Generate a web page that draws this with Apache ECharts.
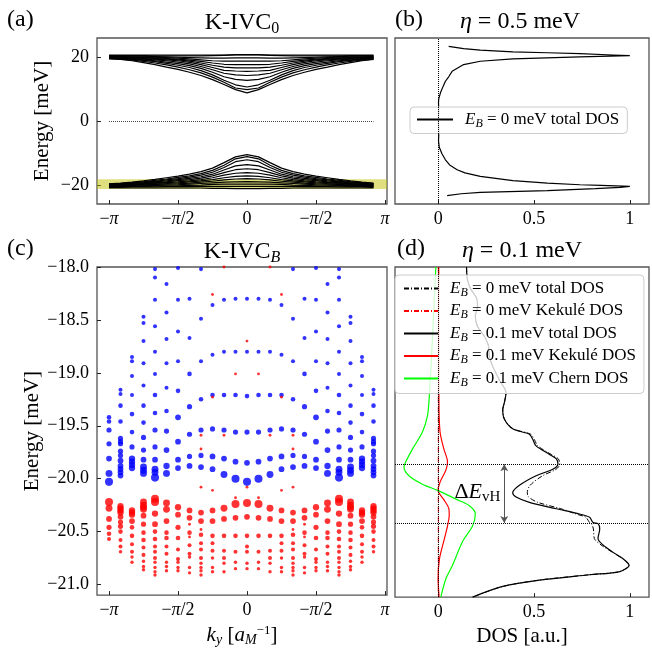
<!DOCTYPE html>
<html><head><meta charset="utf-8">
<script src="https://cdn.jsdelivr.net/npm/echarts@6/dist/echarts.min.js"></script>
<style>html,body{margin:0;padding:0;background:#fff}#c{width:652px;height:652px}</style>
</head><body><div id="c"></div>
<script>
const PI = Math.PI;
const FONT = 'Liberation Serif';

// ---- k grid (in units of pi), 24 points ----
const kyPi = [-1,-11/12,-10/12,-9/12,-8/12,-7/12,-6/12,-5/12,-4/12,-3/12,-2/12,-1/12,0,1/12,2/12,3/12,4/12,5/12,6/12,7/12,8/12,9/12,10/12,11/12];

// ---- panel (a): K-IVC_0 bands [meV] ----
const U0=[19.6,19.4,19.0,18.4,17.8,17.0,16.3,15.4,14.4,13.1,11.6,10.0,9.0,10.0,11.6,13.1,14.4,15.4,16.3,17.0,17.8,18.4,19.0,19.4];
const U1=[19.7,19.5,19.2,18.8,18.3,17.7,17.0,16.2,15.2,13.9,12.3,10.5,10.0,10.5,12.3,13.9,15.2,16.2,17.0,17.7,18.3,18.8,19.2,19.5];
const U2=[19.8,19.6,19.4,19.1,18.7,18.2,17.6,16.9,15.9,14.6,12.9,11.5,10.8,11.5,12.9,14.6,15.9,16.9,17.6,18.2,18.7,19.1,19.4,19.6];
const U3=[19.9,19.8,19.6,19.3,19.0,18.6,18.1,17.5,16.6,15.4,14.0,13.2,12.9,13.2,14.0,15.4,16.6,17.5,18.1,18.6,19.0,19.3,19.6,19.8];
const U4=[20.0,19.9,19.7,19.5,19.3,19.0,18.6,18.0,17.2,16.2,15.1,14.6,14.4,14.6,15.1,16.2,17.2,18.0,18.6,19.0,19.3,19.5,19.7,19.9];
const U5=[20.1,20.0,19.9,19.7,19.5,19.3,19.0,18.5,17.8,16.9,16.0,15.8,15.7,15.8,16.0,16.9,17.8,18.5,19.0,19.3,19.5,19.7,19.9,20.0];
const U6=[20.2,20.1,20.0,19.9,19.7,19.5,19.3,18.9,18.3,17.6,17.0,16.8,16.8,16.8,17.0,17.6,18.3,18.9,19.3,19.5,19.7,19.9,20.0,20.1];
const U7=[20.3,20.2,20.1,20.0,19.9,19.7,19.5,19.2,18.8,18.3,17.9,17.8,17.8,17.8,17.9,18.3,18.8,19.2,19.5,19.7,19.9,20.0,20.1,20.2];
const U8=[20.4,20.3,20.2,20.2,20.1,20.0,19.8,19.6,19.3,19.0,18.9,18.9,18.9,18.9,18.9,19.0,19.3,19.6,19.8,20.0,20.1,20.2,20.2,20.3];
const U9=[20.5,20.5,20.4,20.4,20.3,20.2,20.1,20.0,19.9,19.8,19.8,19.9,19.9,19.9,19.8,19.8,19.9,20.0,20.1,20.2,20.3,20.4,20.4,20.5];
const U10=[20.6,20.6,20.6,20.6,20.5,20.5,20.5,20.5,20.5,20.6,20.7,20.8,20.9,20.8,20.7,20.6,20.5,20.5,20.5,20.5,20.5,20.6,20.6,20.6];
const U11=[20.8,20.8,20.8,20.8,20.8,20.8,20.8,20.8,20.8,20.8,20.8,20.9,20.9,20.9,20.8,20.8,20.8,20.8,20.8,20.8,20.8,20.8,20.8,20.8];
const L0=[-19.4,-19.15,-18.85,-18.45,-18.0,-17.5,-17.0,-16.4,-15.6,-14.5,-12.8,-11.0,-10.3,-11.0,-12.8,-14.5,-15.6,-16.4,-17.0,-17.5,-18.0,-18.45,-18.85,-19.15];
const L1=[-19.5,-19.3,-19.05,-18.7,-18.3,-17.9,-17.4,-16.9,-16.2,-15.2,-13.6,-11.6,-10.9,-11.6,-13.6,-15.2,-16.2,-16.9,-17.4,-17.9,-18.3,-18.7,-19.05,-19.3];
const L2=[-19.6,-19.4,-19.2,-18.9,-18.6,-18.2,-17.8,-17.3,-16.7,-15.8,-14.3,-12.5,-11.9,-12.5,-14.3,-15.8,-16.7,-17.3,-17.8,-18.2,-18.6,-18.9,-19.2,-19.4];
const L3=[-19.7,-19.5,-19.3,-19.1,-18.8,-18.5,-18.1,-17.7,-17.2,-16.4,-15.1,-13.8,-13.4,-13.8,-15.1,-16.4,-17.2,-17.7,-18.1,-18.5,-18.8,-19.1,-19.3,-19.5];
const L4=[-19.8,-19.6,-19.5,-19.3,-19.0,-18.8,-18.4,-18.1,-17.6,-16.9,-15.9,-15.0,-14.7,-15.0,-15.9,-16.9,-17.6,-18.1,-18.4,-18.8,-19.0,-19.3,-19.5,-19.6];
const L5=[-19.9,-19.8,-19.6,-19.4,-19.2,-19.0,-18.8,-18.5,-18.1,-17.5,-16.7,-16.1,-15.9,-16.1,-16.7,-17.5,-18.1,-18.5,-18.8,-19.0,-19.2,-19.4,-19.6,-19.8];
const L6=[-20.0,-19.9,-19.8,-19.6,-19.4,-19.3,-19.1,-18.8,-18.5,-18.1,-17.5,-17.1,-16.9,-17.1,-17.5,-18.1,-18.5,-18.8,-19.1,-19.3,-19.4,-19.6,-19.8,-19.9];
const L7=[-20.1,-20.0,-19.9,-19.8,-19.6,-19.5,-19.4,-19.2,-18.9,-18.6,-18.2,-17.9,-17.8,-17.9,-18.2,-18.6,-18.9,-19.2,-19.4,-19.5,-19.6,-19.8,-19.9,-20.0];
const L8=[-20.2,-20.1,-20.1,-20.0,-19.9,-19.8,-19.7,-19.5,-19.3,-19.1,-18.9,-18.8,-18.7,-18.8,-18.9,-19.1,-19.3,-19.5,-19.7,-19.8,-19.9,-20.0,-20.1,-20.1];
const L9=[-20.3,-20.3,-20.2,-20.2,-20.1,-20.1,-20.0,-19.9,-19.8,-19.6,-19.5,-19.5,-19.5,-19.5,-19.5,-19.6,-19.8,-19.9,-20.0,-20.1,-20.1,-20.2,-20.2,-20.3];
const L10=[-20.5,-20.5,-20.4,-20.4,-20.4,-20.3,-20.3,-20.3,-20.2,-20.2,-20.2,-20.2,-20.2,-20.2,-20.2,-20.2,-20.2,-20.3,-20.3,-20.3,-20.4,-20.4,-20.4,-20.5];
const L11=[-20.7,-20.7,-20.7,-20.7,-20.7,-20.7,-20.7,-20.7,-20.7,-20.8,-20.8,-20.9,-20.9,-20.9,-20.8,-20.8,-20.7,-20.7,-20.7,-20.7,-20.7,-20.7,-20.7,-20.7];
const bandsA = [U0,U1,U2,U3,U4,U5,U6,U7,U8,U9,U10,U11,L0,L1,L2,L3,L4,L5,L6,L7,L8,L9,L10,L11];
const shadeA = [-21, -18];

// ---- panel (b): DOS, eta = 0.5 meV ----
const dosB_E = [-23.1,-22.5,-22.1,-21.5,-20.9,-20.5,-20.2,-19.9,-19.7,-19.2,-18.4,-17.1,-16.0,-15.0,-13.5,-11.9,-10.0,-8.0,-6.0,-3.0,0,3.0,6.0,7.0,9.0,11.0,12.6,14.0,15.7,17.8,18.85,19.6,20.2,20.6,20.8,21.2,21.5,21.8,22.3,22.8,23.5];
const dosB_V = [0.047,0.12,0.22,0.57,0.82,0.95,1.0,0.85,0.74,0.57,0.39,0.22,0.14,0.099,0.06,0.038,0.02,0.006,0.002,0.004,0.001,0.003,0.002,0.003,0.012,0.026,0.038,0.055,0.073,0.133,0.22,0.39,0.74,1.0,0.91,0.74,0.57,0.39,0.22,0.133,0.055];

// ---- panel (c): K-IVC_B states per k column, [E (meV), marker size] ----
const b0=[[-19.42,4],[-19.46,4],[-19.54,4.5],[-19.67,4.5],[-19.81,5],[-19.95,6],[-20.03,7]];
const r0=[[-20.22,7],[-20.28,6],[-20.38,5],[-20.46,4.5],[-20.52,4],[-20.57,3.5]];
const b1=[[-19.16,3.5],[-19.20,3.5],[-19.31,4],[-19.46,4],[-19.62,4.5],[-19.65,4.5],[-19.67,4.5],[-19.74,4.5],[-19.78,4.5],[-19.83,5],[-19.88,5],[-19.91,5],[-19.94,5],[-19.97,5]];
const r1=[[-20.26,5.5],[-20.28,5.5],[-20.30,5.5],[-20.32,5.5],[-20.36,5],[-20.41,4.5],[-20.45,4.5],[-20.50,4],[-20.58,3.5],[-20.64,3.5],[-20.69,3]];
const b2=[[-18.85,3.5],[-18.89,3.5],[-19.03,3.5],[-19.21,3.5],[-19.39,4],[-19.56,4],[-19.70,4.5],[-19.81,5.5],[-19.84,5.5],[-19.87,5.5],[-19.90,5.5]];
const r2=[[-20.30,5.5],[-20.32,5.5],[-20.34,5.5],[-20.40,5],[-20.46,4],[-20.54,4],[-20.62,3.5],[-20.69,3.5],[-20.74,3],[-20.79,3]];
const b3=[[-18.47,3.5],[-18.53,3.5],[-18.70,3.5],[-18.91,3.5],[-19.12,3.5],[-19.31,4],[-19.47,4],[-19.61,4.5],[-19.73,4.5],[-19.82,5],[-19.89,6],[-19.92,6],[-19.95,6]];
const r3=[[-20.22,6],[-20.25,6],[-20.27,6],[-20.29,6],[-20.35,5],[-20.43,4.5],[-20.51,4],[-20.58,4],[-20.65,3.5],[-20.72,3.5],[-20.78,3],[-20.83,3],[-20.86,3]];
const b4=[[-18.02,3.5],[-18.10,3.5],[-18.31,3.5],[-18.56,3.5],[-18.80,3.5],[-19.01,3.5],[-19.21,4],[-19.38,4],[-19.54,4.5],[-19.70,4.5],[-19.82,5],[-19.91,6],[-19.94,6],[-19.99,7]];
const r4=[[-20.19,7],[-20.22,7],[-20.33,5.5],[-20.43,5],[-20.50,4],[-20.57,4],[-20.64,3.5],[-20.69,3.5],[-20.75,3.5],[-20.79,3],[-20.84,3],[-20.88,3],[-20.91,3]];
const b5=[[-18.16,3.5],[-18.43,3.5],[-18.68,3.5],[-18.91,3.5],[-19.14,3.5],[-19.36,4],[-19.55,4.5],[-19.73,5],[-19.88,5.5],[-19.95,6]];
const r5=[[-20.23,6],[-20.29,6],[-20.40,5],[-20.51,4],[-20.56,4],[-20.64,3.5],[-20.71,3.5],[-20.79,3],[-20.83,3],[-20.87,3]];
const b6=[[-18.01,3.5],[-18.31,3.5],[-18.61,3.5],[-18.89,3.5],[-19.17,4],[-19.42,5],[-19.65,5],[-19.82,5],[-19.90,5]];
const r6=[[-20.27,5.5],[-20.34,5],[-20.46,4.5],[-20.56,4],[-20.67,3.5],[-20.76,3.5],[-20.79,3],[-20.84,3],[-20.87,3]];
const b7=[[-18.30,3.5],[-18.67,3.5],[-19.01,4],[-19.32,4.5],[-19.58,4.5],[-19.79,4.5],[-19.88,5]];
const r7=[[-20.30,5],[-20.37,5],[-20.43,2.5],[-20.51,4],[-20.55,2.5],[-20.63,3.5],[-20.71,3.5],[-20.74,3],[-20.84,3],[-20.89,3]];
const b8=[[-18.02,3.5],[-18.49,3.5],[-18.89,3.5],[-19.25,4],[-19.54,4.5],[-19.78,4.5],[-19.89,5]];
const r8=[[-19.59,2.5],[-19.72,2.5],[-20.08,2.5],[-20.32,5],[-20.40,5],[-20.48,2.5],[-20.53,4],[-20.61,3.5],[-20.67,3.5],[-20.75,3.5],[-20.80,3],[-20.84,3],[-20.87,3],[-20.91,3]];
const b9=[[-18.36,3.5],[-18.83,3.5],[-19.21,4],[-19.53,4.5],[-19.79,5],[-19.91,5]];
const r9=[[-18.26,2.5],[-19.23,2.5],[-20.11,2.5],[-20.30,5],[-20.40,5],[-20.54,4],[-20.61,3.5],[-20.68,3.5],[-20.75,3],[-20.84,3],[-20.88,3]];
const b10=[[-18.31,3.5],[-18.80,3.5],[-19.21,4],[-19.54,4.5],[-19.81,5],[-19.96,6]];
const r10=[[-18.0,2.5],[-19.59,2.5],[-20.28,6],[-20.38,5],[-20.54,4],[-20.68,3.5],[-20.75,3.5],[-20.80,3],[-20.88,3]];
const b11=[[-18.30,3.5],[-18.80,3.5],[-19.21,4],[-19.56,4.5],[-19.84,5],[-20.00,7]];
const r11=[[-19.01,2.5],[-20.18,2.5],[-20.24,7],[-20.37,5],[-20.54,4],[-20.69,3.5],[-20.79,3],[-20.85,3]];
const b12=[[-18.30,3.5],[-18.80,3.5],[-19.22,4],[-19.56,4.5],[-19.85,5],[-20.03,7]];
const r12=[[-18.70,2.5],[-20.08,2.5],[-20.23,7],[-20.36,5],[-20.54,4],[-20.64,3.5],[-20.69,3.5],[-20.80,3],[-20.85,3]];
// columns 13..23 observed identical to columns 11..1
const cBlue=[b0,b1,b2,b3,b4,b5,b6,b7,b8,b9,b10,b11,b12,b11,b10,b9,b8,b7,b6,b5,b4,b3,b2,b1];
const cRed =[r0,r1,r2,r3,r4,r5,r6,r7,r8,r9,r10,r11,r12,r11,r10,r9,r8,r7,r6,r5,r4,r3,r2,r1];

// ---- panel (d): DOS, eta = 0.1 meV ----
const dTot_E=[-18.0,-18.12,-18.21,-18.29,-18.37,-18.46,-18.56,-18.65,-18.74,-18.84,-18.93,-19.06,-19.18,-19.27,-19.34,-19.43,-19.52,-19.57,-19.62,-19.68,-19.76,-19.80,-19.85,-19.90,-19.96,-20.05,-20.12,-20.16,-20.21,-20.27,-20.32,-20.35,-20.40,-20.41,-20.46,-20.55,-20.61,-20.68,-20.74,-20.80,-20.86,-20.89,-20.94,-21.0,-21.1];
const d1Total=[0.148,0.153,0.171,0.200,0.206,0.194,0.206,0.241,0.263,0.267,0.284,0.319,0.354,0.346,0.337,0.346,0.389,0.476,0.494,0.511,0.581,0.616,0.625,0.598,0.511,0.424,0.389,0.407,0.476,0.616,0.738,0.790,0.808,0.834,0.843,0.834,0.860,0.913,0.965,0.996,0.948,0.790,0.529,0.337,0.18];
const d0Total=[0.148,0.153,0.171,0.200,0.206,0.194,0.206,0.241,0.263,0.267,0.284,0.319,0.354,0.346,0.337,0.346,0.392,0.482,0.502,0.520,0.590,0.626,0.635,0.615,0.545,0.480,0.465,0.472,0.520,0.640,0.720,0.770,0.790,0.800,0.810,0.815,0.850,0.910,0.963,0.996,0.948,0.790,0.529,0.337,0.18];
const dKek_E=[-18.0,-18.5,-19.0,-19.24,-19.55,-19.71,-19.83,-19.91,-20.02,-20.10,-20.18,-20.27,-20.33,-20.43,-20.55,-20.74,-20.93,-21.1];
const d1Kek=[0.003,0.003,0.004,0.004,0.01,0.03,0.049,0.04,0.01,0.0,0.028,0.056,0.058,0.049,0.033,0.007,0.0,0.005];
const d0Kek_E=[-18.0,-18.5,-19.0,-19.5,-20.0,-20.5,-21.0,-21.1];
const d0Kek=[0.001,0.001,0.001,0.001,0.001,0.001,0.001,0.001];
const dChern_E=[-18.0,-18.68,-19.24,-19.40,-19.55,-19.71,-19.83,-19.88,-19.96,-20.04,-20.10,-20.18,-20.24,-20.32,-20.43,-20.58,-20.80,-20.93,-21.1];
const d1Chern=[-0.012,-0.03,-0.047,-0.056,-0.082,-0.134,-0.169,-0.178,-0.152,-0.082,0.0,0.093,0.162,0.194,0.18,0.127,0.075,0.04,0.014];
const vhLevels=[-19.853,-20.405];
const vhArrowDos=0.345;

// ---- tick labels ----
const kTickVals=[-PI,-PI/2,0,PI/2,PI];
const kTickLabels=['{n|−}{p|π}','{n|−}{p|π}{n|/2}','{n|0}','{n|−}{p|π}{n|/2}','{p|π}'];
const yTicksA=[-20,0,20];
const yTicksC=[-21,-20.5,-20,-19.5,-19,-18.5,-18];
const dosTicks=[0,0.5,1];

const minus = s => String(s).replace('-', '−');
const TS = 18;
const DOT_SCALE = 1.15;
const grids=[
  {left:97, top:38, width:290, height:166},
  {left:395, top:38, width:254, height:166},
  {left:97, top:267, width:290, height:332},
  {left:395, top:267, width:254, height:332}
];
grids.forEach(g=>{g.show=true;g.borderColor='#555';g.borderWidth=1.3;g.backgroundColor='transparent';});

const tickStyle={show:true,inside:true,length:4,lineStyle:{color:'#222',width:1}};
const noLine={show:false,onZero:false};
const kRich={n:{fontFamily:FONT,fontSize:TS,color:'#000'},p:{fontFamily:FONT,fontSize:TS,fontStyle:'italic',color:'#000'}};
function kAxis(gi, extra){
  return Object.assign({type:'value',gridIndex:gi,min:-3.415,max:3.187,position:'bottom',
    axisLine:noLine,splitLine:{show:false},
    axisTick:Object.assign({customValues:kTickVals},tickStyle),
    axisLabel:{customValues:kTickVals,margin:6,fontFamily:FONT,fontSize:TS,color:'#000',rich:kRich,
      formatter:v=>{for(let j=0;j<kTickVals.length;j++){if(Math.abs(v-kTickVals[j])<1e-6)return kTickLabels[j];}return '';}}},extra||{});
}
function dosAxis(gi, extra){
  return Object.assign({type:'value',gridIndex:gi,min:-0.225,max:1.1,position:'bottom',
    axisLine:noLine,splitLine:{show:false},
    axisTick:Object.assign({customValues:dosTicks},tickStyle),
    axisLabel:{customValues:dosTicks,margin:6,fontFamily:FONT,fontSize:TS,color:'#000',formatter:v=>String(v)}},extra||{});
}
const subRich={
  i:{fontFamily:FONT,fontSize:21,fontStyle:'italic',color:'#000'},
  n:{fontFamily:FONT,fontSize:21,color:'#000'},
  s:{fontFamily:FONT,fontSize:14,fontStyle:'italic',color:'#000',padding:[9,0,0,0]},
  sup:{fontFamily:FONT,fontSize:13,color:'#000',padding:[0,0,10,0]}
};
const xAxes=[
  kAxis(0),
  dosAxis(1),
  kAxis(2,{name:'{i|k}{s|y}{n| [}{i|a}{s|M}{sup|−1}{n|]}',nameLocation:'middle',nameGap:20,nameTextStyle:{rich:subRich,fontFamily:FONT,fontSize:21}}),
  dosAxis(3,{name:'DOS [a.u.]',nameLocation:'middle',nameGap:22,nameTextStyle:{fontFamily:FONT,fontSize:21,color:'#000'}})
];
const yAxes=[
  {type:'value',gridIndex:0,min:-25.7,max:26.1,position:'left',axisLine:noLine,splitLine:{show:false},
    axisTick:Object.assign({customValues:yTicksA},tickStyle),
    axisLabel:{customValues:yTicksA,margin:8,fontFamily:FONT,fontSize:TS,color:'#000',formatter:v=>minus(v)},
    name:'Energy [meV]',nameLocation:'middle',nameGap:44,nameTextStyle:{fontFamily:FONT,fontSize:21,color:'#000'}},
  {type:'value',gridIndex:1,min:-25.7,max:26.1,position:'left',axisLine:noLine,splitLine:{show:false},axisTick:{show:false},axisLabel:{show:false}},
  {type:'value',gridIndex:2,min:-21.1,max:-18.0,position:'left',axisLine:noLine,splitLine:{show:false},
    axisTick:Object.assign({customValues:yTicksC},tickStyle),
    axisLabel:{customValues:yTicksC,margin:8,fontFamily:FONT,fontSize:TS,color:'#000',formatter:v=>minus(v.toFixed(1))},
    name:'Energy [meV]',nameLocation:'middle',nameGap:54,nameTextStyle:{fontFamily:FONT,fontSize:21,color:'#000'}},
  {type:'value',gridIndex:3,min:-21.1,max:-18.0,position:'left',axisLine:noLine,splitLine:{show:false},axisTick:{show:false},axisLabel:{show:false}}
];

const series=[];
// (a)
bandsA.forEach((b,bi)=>{
  const s={type:'line',xAxisIndex:0,yAxisIndex:0,symbol:'none',silent:true,
    data:kyPi.map((k,i)=>[k*PI,b[i]]),lineStyle:{color:'#000',width:1.2}};
  if(bi===0){
    s.markArea={silent:true,itemStyle:{color:'rgba(191,191,0,0.5)'},data:[[{yAxis:shadeA[0]},{yAxis:shadeA[1]}]]};
    s.markLine={silent:true,symbol:'none',label:{show:false},lineStyle:{color:'#444',type:'dotted',width:1},
      data:[[{coord:[kyPi[0]*PI,0]},{coord:[kyPi[23]*PI,0]}]]};
  }
  series.push(s);
});
// (b)
series.push({name:'bTotal',type:'line',xAxisIndex:1,yAxisIndex:1,symbol:'none',itemStyle:{color:'#000'},
  data:dosB_E.map((e,i)=>[dosB_V[i],e]),lineStyle:{color:'#000',width:1.2},
  markLine:{silent:true,symbol:'none',label:{show:false},lineStyle:{color:'#000',type:'dotted',width:1},data:[{xAxis:0}]}});
// (c)
function colPts(cols){const out=[];cols.forEach((col,i)=>col.forEach(p=>out.push([kyPi[i]*PI,p[0],p[1]])));return out;}
series.push({type:'scatter',xAxisIndex:2,yAxisIndex:2,data:colPts(cBlue),symbolSize:v=>v[2]*DOT_SCALE,itemStyle:{color:'#0000ff'},silent:true});
series.push({type:'scatter',xAxisIndex:2,yAxisIndex:2,data:colPts(cRed),symbolSize:v=>v[2]*DOT_SCALE,itemStyle:{color:'#ff0000'},silent:true});
// (d)
const dashDot=[5,2,1,2];
series.push({name:'d0Total',type:'line',xAxisIndex:3,yAxisIndex:3,symbol:'none',smooth:0.3,itemStyle:{color:'#000'},
  data:dTot_E.map((e,i)=>[d0Total[i],e]),lineStyle:{color:'#000',width:1,type:dashDot},
  markLine:{silent:true,symbol:'none',label:{show:false},lineStyle:{color:'#000',type:'dotted',width:1},
    data:[{xAxis:0},{yAxis:vhLevels[0]},{yAxis:vhLevels[1]}]}});
series.push({name:'d0Kek',type:'line',xAxisIndex:3,yAxisIndex:3,symbol:'none',itemStyle:{color:'#ff0000'},
  data:d0Kek_E.map((e,i)=>[d0Kek[i],e]),lineStyle:{color:'#ff0000',width:1,type:dashDot}});
series.push({name:'d1Total',type:'line',xAxisIndex:3,yAxisIndex:3,symbol:'none',smooth:0.3,itemStyle:{color:'#000'},
  data:dTot_E.map((e,i)=>[d1Total[i],e]),lineStyle:{color:'#000',width:1.2},
  markLine:{silent:true,symbol:['arrow','arrow'],symbolSize:[6,7],label:{show:false},lineStyle:{color:'#555',type:'solid',width:1},
    data:[[{coord:[vhArrowDos,vhLevels[0]]},{coord:[vhArrowDos,vhLevels[1]]}]]},
  markPoint:{silent:true,symbol:'circle',symbolSize:1,itemStyle:{color:'rgba(0,0,0,0)'},
    label:{show:true,position:'inside',formatter:'{n|Δ}{i|E}{s|vH}',rich:{
      n:{fontFamily:FONT,fontSize:22,color:'#000'},
      i:{fontFamily:FONT,fontSize:22,fontStyle:'italic',color:'#000'},
      s:{fontFamily:FONT,fontSize:15,color:'#000',padding:[10,0,0,0]}}},
    data:[{coord:[0.205,-20.115]}]}});
series.push({name:'d1Kek',type:'line',xAxisIndex:3,yAxisIndex:3,symbol:'none',smooth:0.3,itemStyle:{color:'#ff0000'},
  data:dKek_E.map((e,i)=>[d1Kek[i],e]),lineStyle:{color:'#ff0000',width:1.2}});
series.push({name:'d1Chern',type:'line',xAxisIndex:3,yAxisIndex:3,symbol:'none',smooth:0.3,itemStyle:{color:'#00ff00'},
  data:dChern_E.map((e,i)=>[d1Chern[i],e]),lineStyle:{color:'#00ff00',width:1.2}});

const legendText={
  bTotal:'{g| }{i|E}{s|B}{n| = 0 meV total DOS}',
  d0Total:'{g| }{i|E}{s|B}{n| = 0 meV total DOS}',
  d0Kek:'{g| }{i|E}{s|B}{n| = 0 meV Kekulé DOS}',
  d1Total:'{g| }{i|E}{s|B}{n| = 0.1 meV total DOS}',
  d1Kek:'{g| }{i|E}{s|B}{n| = 0.1 meV Kekulé DOS}',
  d1Chern:'{g| }{i|E}{s|B}{n| = 0.1 meV Chern DOS}'
};
const legRich={
  g:{width:7,fontSize:10},
  i:{fontFamily:FONT,fontSize:17,fontStyle:'italic',color:'#000'},
  s:{fontFamily:FONT,fontSize:12,fontStyle:'italic',color:'#000',padding:[8,0,0,0]},
  n:{fontFamily:FONT,fontSize:17,color:'#000'}
};
const legendBase={orient:'vertical',backgroundColor:'rgba(255,255,255,0.8)',borderColor:'#ccc',borderWidth:1,borderRadius:4,
  itemHeight:12,selectedMode:false,itemStyle:{opacity:0},formatter:n=>legendText[n],textStyle:{fontFamily:FONT,fontSize:17,color:'#000',rich:legRich}};
const legends=[
  Object.assign({},legendBase,{data:['bTotal'],left:410,top:107,padding:[4,8,4,6],itemWidth:36}),
  Object.assign({},legendBase,{data:['d0Total','d0Kek','d1Total','d1Kek','d1Chern'],left:395,top:275,padding:[5,8,5,8],itemWidth:34,itemGap:4})
];

const titleRich={
  t:{fontFamily:FONT,fontSize:24,color:'#000'},
  ti:{fontFamily:FONT,fontSize:24,fontStyle:'italic',color:'#000'},
  sub:{fontFamily:FONT,fontSize:16,color:'#000',padding:[12,0,0,0]},
  subi:{fontFamily:FONT,fontSize:16,fontStyle:'italic',color:'#000',padding:[12,0,0,0]}
};
function T(text,left,top,align){return {text:text,left:left,top:top,padding:0,textAlign:align||'center',textStyle:{rich:titleRich,fontFamily:FONT,fontSize:24,fontWeight:'normal',color:'#000'}};}
const titles=[
  T('{t|(a)}',7,8,'left'), T('{t|K-IVC}{sub|0}',242,9),
  T('{t|(b)}',395,8,'left'), T('{ti|η}{t| = 0.5 meV}',520,10),
  T('{t|(c)}',7,237,'left'), T('{t|K-IVC}{subi|B}',242,238),
  T('{t|(d)}',397,237,'left'), T('{ti|η}{t| = 0.1 meV}',522,239)
];

const chart=echarts.init(document.getElementById('c'),null,{renderer:'canvas'});
chart.setOption({animation:false,backgroundColor:'#fff',title:titles,grid:grids,xAxis:xAxes,yAxis:yAxes,legend:legends,series:series});
</script></body></html>
